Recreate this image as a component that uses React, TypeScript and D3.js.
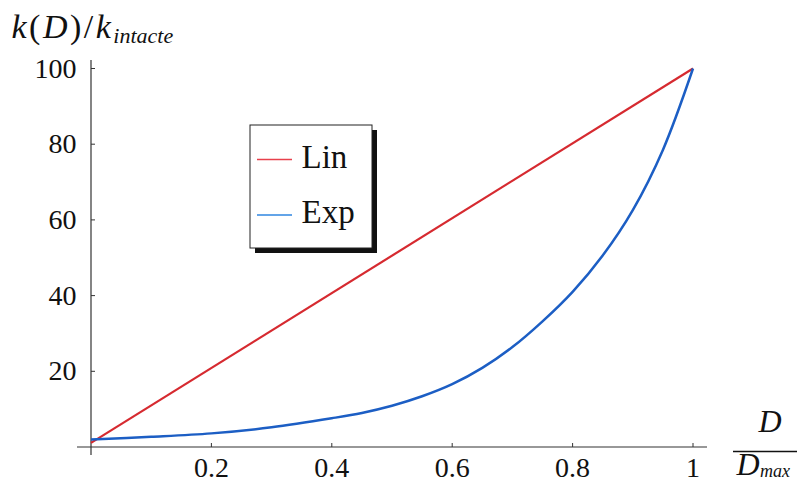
import React from "react";
import * as d3 from "d3";

const linX = [0, 1];
const linY = [1.1, 100];
const expX = [0, 0.1, 0.2, 0.3, 0.4, 0.45, 0.5, 0.55, 0.6, 0.65, 0.7, 0.75, 0.8, 0.85, 0.9, 0.95, 1.0];
const expY = [2.0, 2.7, 3.6, 5.2, 7.6, 9.0, 10.9, 13.4, 16.6, 20.9, 26.4, 33.2, 41.0, 50.6, 62.6, 78.5, 100];
const xTicks = [0.2, 0.4, 0.6, 0.8, 1];
const xTickLabels = ["0.2", "0.4", "0.6", "0.8", "1"];
const yTicks = [20, 40, 60, 80, 100];
const yTickLabels = ["20", "40", "60", "80", "100"];
const legendNames = ["Lin", "Exp"];

const W = 797;
const H = 482;
const RED = "#d62a30";
const BLUE = "#1c5ec4";
const FONT = "Liberation Serif, Times New Roman, serif";

export default function App() {
  const x = d3.scaleLinear().domain([0, 1]).range([91, 693]);
  const y = d3.scaleLinear().domain([0, 100]).range([447, 68.5]);
  const line = d3
    .line<[number, number]>()
    .x((d) => x(d[0]))
    .y((d) => y(d[1]))
    .curve(d3.curveCatmullRom.alpha(0.5));
  const linPts = linX.map((v, i) => [v, linY[i]] as [number, number]);
  const expPts = expX.map((v, i) => [v, expY[i]] as [number, number]);
  const x0 = x(0);
  const y0 = y(0);

  return (
    <svg
      width={W}
      height={H}
      style={{ position: "absolute", left: 0, top: 0, background: "#fff" }}
    >
      <rect x={0} y={0} width={W} height={H} fill="#fff" />
      {/* title */}
      <text x={11.5} y={38} fontSize={34} fill="#111" fontFamily={FONT} letterSpacing={2.5}>
        <tspan fontStyle="italic">k</tspan>
        <tspan>(</tspan>
        <tspan fontStyle="italic">D</tspan>
        <tspan>)/</tspan>
        <tspan fontStyle="italic">k</tspan>
        <tspan dy={5} fontSize={22} fontStyle="italic" letterSpacing={0}>intacte</tspan>
      </text>

      {/* axes */}
      <line x1={77} x2={707} y1={y0} y2={y0} stroke="#333" strokeWidth={1.2} />
      <line x1={x0} x2={x0} y1={60} y2={455} stroke="#333" strokeWidth={1.2} />
      {xTicks.map((t, i) => (
        <g key={"xt" + i}>
          <line x1={x(t)} x2={x(t)} y1={y0} y2={y0 - 4} stroke="#333" strokeWidth={1} />
          <text x={x(t)} y={476.5} textAnchor="middle" fontSize={28} fill="#111" fontFamily={FONT}>
            {xTickLabels[i]}
          </text>
        </g>
      ))}
      {yTicks.map((t, i) => (
        <g key={"yt" + i}>
          <line x1={x0} x2={x0 + 4} y1={y(t)} y2={y(t)} stroke="#333" strokeWidth={1} />
          <text x={76.5} y={y(t) + 9} textAnchor="end" fontSize={28} fill="#111" fontFamily={FONT}>
            {yTickLabels[i]}
          </text>
        </g>
      ))}

      {/* x axis label D / D_max */}
      <text x={770} y={431.5} textAnchor="middle" fontSize={32} fontStyle="italic" fill="#111" fontFamily={FONT}>
        D
      </text>
      <line x1={733} x2={800} y1={451.5} y2={451.5} stroke="#111" strokeWidth={1.5} />
      <text x={736.5} y={475} fontSize={32} fontStyle="italic" fill="#111" fontFamily={FONT}>
        D
      </text>
      <text x={760} y={477} fontSize={18} fontStyle="italic" fill="#111" fontFamily={FONT}>
        max
      </text>

      {/* series */}
      <path d={line(linPts) || ""} fill="none" stroke={RED} strokeWidth={2.2} />
      <path d={line(expPts) || ""} fill="none" stroke={BLUE} strokeWidth={2.5} strokeLinejoin="round" />

      {/* legend */}
      <rect x={255} y={130} width={122} height={123} fill="#111" />
      <rect x={250} y={125} width={122} height={123} fill="#fff" stroke="#222" strokeWidth={1} />
      {legendNames.map((n, i) => {
        const ly = 159.5 + i * 55.5;
        return (
          <g key={n}>
            <line x1={257} x2={292} y1={ly} y2={ly} stroke={i === 0 ? "#e8404c" : "#2f86e0"} strokeWidth={1.3} />
            <text x={301.5} y={ly + 8} fontSize={33} fill="#111" fontFamily={FONT}>
              {n}
            </text>
          </g>
        );
      })}
    </svg>
  );
}
